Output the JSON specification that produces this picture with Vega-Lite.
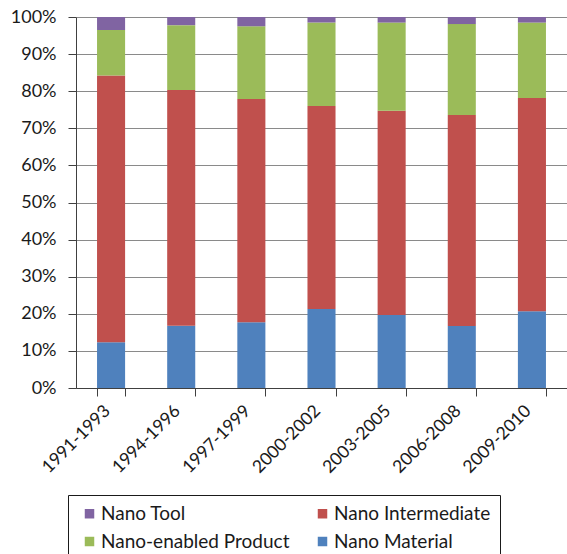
{
  "$schema": "https://vega.github.io/schema/vega-lite/v6.json",
  "autosize": "none",
  "width": 491,
  "height": 371,
  "padding": {"left": 76, "top": 17, "right": 0, "bottom": 166},
  "background": "white",
  "config": {
    "font": "Lato",
    "view": {"stroke": null},
    "axis": {"labelFont": "Lato", "labelColor": "#1a1a1a"}
  },
  "data": {
    "values": [
      {"period": "1991-1993", "category": "Nano Material", "share": 12.3, "rank": 1},
      {"period": "1991-1993", "category": "Nano Intermediate", "share": 71.9, "rank": 2},
      {"period": "1991-1993", "category": "Nano-enabled Product", "share": 12.3, "rank": 3},
      {"period": "1991-1993", "category": "Nano Tool", "share": 3.5, "rank": 4},
      {"period": "1994-1996", "category": "Nano Material", "share": 16.8, "rank": 1},
      {"period": "1994-1996", "category": "Nano Intermediate", "share": 63.5, "rank": 2},
      {"period": "1994-1996", "category": "Nano-enabled Product", "share": 17.5, "rank": 3},
      {"period": "1994-1996", "category": "Nano Tool", "share": 2.2, "rank": 4},
      {"period": "1997-1999", "category": "Nano Material", "share": 17.7, "rank": 1},
      {"period": "1997-1999", "category": "Nano Intermediate", "share": 60.2, "rank": 2},
      {"period": "1997-1999", "category": "Nano-enabled Product", "share": 19.6, "rank": 3},
      {"period": "1997-1999", "category": "Nano Tool", "share": 2.5, "rank": 4},
      {"period": "2000-2002", "category": "Nano Material", "share": 21.3, "rank": 1},
      {"period": "2000-2002", "category": "Nano Intermediate", "share": 54.7, "rank": 2},
      {"period": "2000-2002", "category": "Nano-enabled Product", "share": 22.5, "rank": 3},
      {"period": "2000-2002", "category": "Nano Tool", "share": 1.5, "rank": 4},
      {"period": "2003-2005", "category": "Nano Material", "share": 19.7, "rank": 1},
      {"period": "2003-2005", "category": "Nano Intermediate", "share": 55.0, "rank": 2},
      {"period": "2003-2005", "category": "Nano-enabled Product", "share": 23.8, "rank": 3},
      {"period": "2003-2005", "category": "Nano Tool", "share": 1.5, "rank": 4},
      {"period": "2006-2008", "category": "Nano Material", "share": 16.7, "rank": 1},
      {"period": "2006-2008", "category": "Nano Intermediate", "share": 56.9, "rank": 2},
      {"period": "2006-2008", "category": "Nano-enabled Product", "share": 24.5, "rank": 3},
      {"period": "2006-2008", "category": "Nano Tool", "share": 1.9, "rank": 4},
      {"period": "2009-2010", "category": "Nano Material", "share": 20.7, "rank": 1},
      {"period": "2009-2010", "category": "Nano Intermediate", "share": 57.5, "rank": 2},
      {"period": "2009-2010", "category": "Nano-enabled Product", "share": 20.3, "rank": 3},
      {"period": "2009-2010", "category": "Nano Tool", "share": 1.5, "rank": 4}
    ]
  },
  "mark": {"type": "bar"},
  "encoding": {
    "x": {
      "field": "period",
      "type": "nominal",
      "sort": null,
      "scale": {"paddingInner": 0.6, "paddingOuter": 0.3},
      "axis": {
        "title": null,
        "labelAngle": -45,
        "labelAlign": "right",
        "labelBaseline": "middle",
        "labelFontSize": 17.5,
        "labelPadding": 12,
        "labelOffset": -4,
        "tickBand": "extent",
        "tickSize": 8,
        "tickColor": "#404040",
        "domainColor": "#404040",
        "grid": false
      }
    },
    "y": {
      "field": "share",
      "type": "quantitative",
      "stack": "zero",
      "scale": {"domain": [0, 100], "nice": false},
      "axis": {
        "title": null,
        "values": [0, 10, 20, 30, 40, 50, 60, 70, 80, 90, 100],
        "labelExpr": "datum.value + '%'",
        "labelFontSize": 18,
        "labelPadding": 12,
        "tickSize": 8,
        "tickColor": "#404040",
        "domainColor": "#404040",
        "gridColor": "#8a8a8a",
        "gridWidth": 1
      }
    },
    "color": {
      "field": "category",
      "type": "nominal",
      "scale": {
        "domain": ["Nano Tool", "Nano Intermediate", "Nano-enabled Product", "Nano Material"],
        "range": ["#8064A2", "#C0504D", "#9BBB59", "#4F81BD"]
      },
      "legend": {
        "title": null,
        "orient": "none",
        "legendX": -8,
        "legendY": 478,
        "direction": "horizontal",
        "columns": 2,
        "columnPadding": 20,
        "rowPadding": 8,
        "padding": 9,
        "symbolOffset": 3,
        "symbolType": "square",
        "symbolSize": 90,
        "symbolStrokeWidth": 0,
        "labelFont": "Lato",
        "labelFontSize": 19,
        "labelColor": "#1a1a1a",
        "labelOffset": 2,
        "labelLimit": 300,
        "strokeColor": "#1a1a1a",
        "fillColor": "white"
      }
    },
    "order": {"field": "rank", "type": "quantitative"}
  }
}
